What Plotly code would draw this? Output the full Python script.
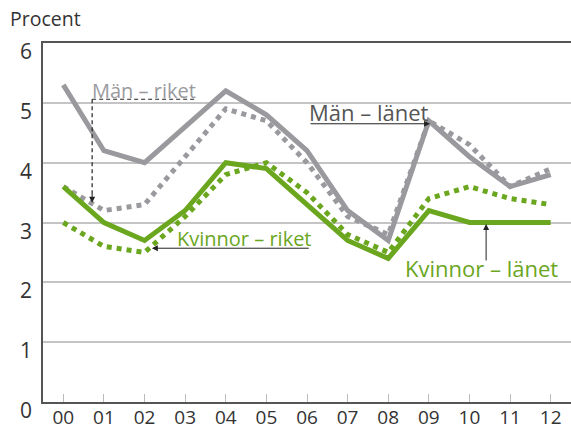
import plotly.graph_objects as go

years = ["00", "01", "02", "03", "04", "05", "06", "07", "08", "09", "10", "11", "12"]
man_lanet = [5.3, 4.2, 4.0, 4.6, 5.2, 4.8, 4.2, 3.2, 2.7, 4.7, 4.1, 3.6, 3.8]
man_riket = [3.6, 3.2, 3.3, 4.1, 4.9, 4.7, 4.0, 3.1, 2.8, 4.7, 4.3, 3.6, 3.9]
kv_lanet = [3.6, 3.0, 2.7, 3.2, 4.0, 3.9, 3.3, 2.7, 2.4, 3.2, 3.0, 3.0, 3.0]
kv_riket = [3.0, 2.6, 2.5, 3.1, 3.8, 4.0, 3.5, 2.8, 2.5, 3.4, 3.6, 3.4, 3.3]
y_ticks = [0, 1, 2, 3, 4, 5, 6]

GRAY = "#9a9a9e"
GREEN = "#6aa61e"
FONT = "Open Sans"
xs = list(range(len(years)))

fig = go.Figure()
fig.add_trace(go.Scatter(x=xs, y=man_riket, mode="lines",
                         line=dict(color=GRAY, width=5, dash="5px,5px")))
fig.add_trace(go.Scatter(x=xs, y=kv_riket, mode="lines",
                         line=dict(color=GREEN, width=5, dash="5px,5px")))
fig.add_trace(go.Scatter(x=xs, y=man_lanet, mode="lines",
                         line=dict(color=GRAY, width=5)))
fig.add_trace(go.Scatter(x=xs, y=kv_lanet, mode="lines",
                         line=dict(color=GREEN, width=5)))

shapes = [
    dict(type="line", xref="x", yref="y", x0=0.71, x1=3.27, y0=5.06, y1=5.06,
         line=dict(color="#222", width=1.2, dash="4px,3px")),
    dict(type="line", xref="x", yref="y", x0=0.71, x1=0.71, y0=5.06, y1=3.45,
         line=dict(color="#222", width=1.2, dash="4px,3px")),
]

anns = []
def arrow(x0, y0, x1, y1):
    anns.append(dict(x=x1, y=y1, ax=x0, ay=y0, xref="x", yref="y", axref="x", ayref="y",
                     text="", showarrow=True, arrowhead=2, arrowsize=1.2, arrowwidth=1,
                     arrowcolor="#222", standoff=0))

arrow(0.71, 3.5, 0.71, 3.33)
arrow(6.05, 4.65, 9.03, 4.65)
arrow(6.08, 2.57, 2.18, 2.57)
arrow(10.41, 2.34, 10.41, 2.975)

def label(x, y, txt, color, size):
    anns.append(dict(x=x, y=y, xref="x", yref="y", text=txt, showarrow=False,
                     xanchor="left", yanchor="middle",
                     font=dict(family=FONT, size=size, color=color)))

label(0.66, 5.21, "Män – riket", GRAY, 20)
label(6.0, 4.85, "Män – länet", "#555555", 22)
label(2.75, 2.74, "Kvinnor – riket", GREEN, 20)
label(8.37, 2.24, "Kvinnor – länet", GREEN, 22)

# y tick labels: placed on the y scale, set slightly below their gridlines as in the reference
for v in y_ticks:
    anns.append(dict(x=0, xref="paper", y=v, yref="y", text=str(v), showarrow=False,
                     xanchor="right", yanchor="middle", xshift=-9, yshift=-8,
                     font=dict(family=FONT, size=21, color="#333")))

anns.append(dict(x=0, y=1, xref="paper", yref="paper", xshift=-35, yshift=40,
                 text="Procent", showarrow=False, xanchor="left", yanchor="top",
                 font=dict(family=FONT, size=19.5, color="#333")))

fig.update_layout(
    width=571, height=427,
    margin=dict(l=43, r=0, t=43, b=25),
    plot_bgcolor="white", paper_bgcolor="white",
    showlegend=False,
    shapes=shapes, annotations=anns,
    font=dict(family=FONT, color="#333"),
    xaxis=dict(range=[-0.5, 12.5], tickmode="array", tickvals=xs, ticktext=years,
               automargin=False,
               showgrid=False, zeroline=False, showline=True, linecolor="#555",
               linewidth=2, mirror=True, ticks="inside", ticklen=8, tickcolor="#bbb",
               tickwidth=1, tickfont=dict(size=19, color="#333"), ticklabelstandoff=-3),
    yaxis=dict(range=[0, 6], tickvals=y_ticks, showgrid=True, gridcolor="#c4c4c4",
               automargin=False, showticklabels=False,
               gridwidth=1.5, zeroline=False, showline=True, linecolor="#555",
               linewidth=2, ticks=""),
)

fig.write_html("out.html", config={"displayModeBar": False},
               post_script="document.body.style.margin='0';document.body.style.overflow='hidden';")
